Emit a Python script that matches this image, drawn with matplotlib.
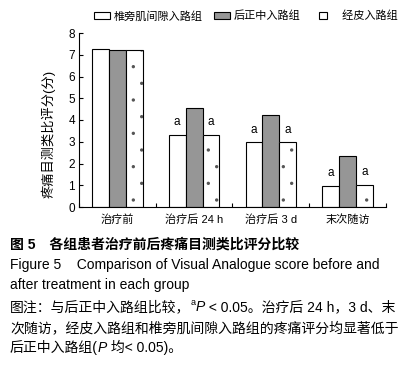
import matplotlib
matplotlib.use("Agg")
import matplotlib.pyplot as plt
from matplotlib.legend_handler import HandlerTuple
import numpy as np

plt.rcParams['font.family'] = ['Liberation Sans', 'Noto Sans CJK SC', 'DejaVu Sans']
plt.rcParams['hatch.linewidth'] = 0.0

categories = ['治疗前', '治疗后 24 h', '治疗后 3 d', '末次随访']
series_names = ['椎旁肌间隙入路组', '后正中入路组', '\u3000经皮入路组']
paraspinal = [7.27, 3.31, 2.97, 0.97]
midline = [7.22, 4.55, 4.23, 2.34]
percutaneous = [7.22, 3.31, 2.97, 1.01]
sig_marks = ['', 'a', 'a', 'a']
yticks = [0, 1, 2, 3, 4, 5, 6, 7, 8]

W, H = 414, 368
fig = plt.figure(figsize=(W / 100, H / 100), dpi=100)
ax = fig.add_axes([79 / W, 1 - 207 / H, (386 - 79) / W, (207 - 33) / H])

x = np.arange(len(categories))
w = 0.22
b1 = ax.bar(x - w, paraspinal, w, color='white', edgecolor='black', linewidth=0.8, label=series_names[0])
b2 = ax.bar(x, midline, w, color='#969696', edgecolor='black', linewidth=0.8, label=series_names[1])
b3h = ax.bar(x + w, percutaneous, w, color='white', edgecolor='#555555', linewidth=0,
             hatch='.')
b3 = ax.bar(x + w, percutaneous, w, color='none', edgecolor='black', linewidth=0.8)

for i, m in enumerate(sig_marks):
    if m:
        for xx, v in ((x[i] - w, paraspinal[i]), (x[i] + w, percutaneous[i])):
            ax.annotate(m, (xx, v), xytext=(0, 7), textcoords='offset points',
                        ha='center', va='baseline', fontsize=8.5)

ax.set_xlim(-0.5, len(categories) - 0.5)
ax.set_ylim(0, 8)
ax.set_yticks(yticks)
ax.tick_params(axis='y', direction='in', length=3, width=0.8, labelsize=8.5, pad=3)
ax.set_xticks(np.arange(len(categories) + 1) - 0.5)
ax.set_xticklabels([])
ax.set_xticks(x, minor=True)
ax.set_xticklabels(categories, minor=True, fontsize=8)
ax.tick_params(axis='x', which='major', direction='in', length=3, width=0.8)
ax.tick_params(axis='x', which='minor', length=0, pad=5)
for s in ('top', 'right'):
    ax.spines[s].set_visible(False)
for s in ('left', 'bottom'):
    ax.spines[s].set_linewidth(0.8)

fig.text(48 / W, 1 - 134 / H, '疼痛目测类比评分(分)', rotation=90, ha='center', va='center', fontsize=9.5)

fig.legend(handles=[b1, b2, (b3h, b3)], labels=series_names, loc='center',
           bbox_to_anchor=(246 / W, 1 - 16 / H), ncol=3,
           handler_map={tuple: HandlerTuple(ndivide=None, pad=0)},
           frameon=False, fontsize=8, handlelength=1.4, handleheight=0.55,
           handletextpad=0.35, columnspacing=1.0, borderaxespad=0, borderpad=0)

renderer = fig.canvas.get_renderer()


def rich(x0, ybase, pieces, size=10):
    xpos = x0
    for s, kw in pieces:
        k = dict(fontsize=size)
        dy = 0
        if kw.get('sup'):
            k['fontsize'] = size * 0.65
            dy = size * 1.39 * 0.42
        if kw.get('italic'):
            k['style'] = 'italic'
        if kw.get('bold'):
            k['weight'] = 'bold'
        t = fig.text(xpos / W, 1 - (ybase - dy) / H, s, ha='left', va='baseline', **k)
        bb = t.get_window_extent(renderer)
        xpos = bb.x1


rich(10, 248.5, [('图 5\u3000各组患者治疗前后疼痛目测类比评分比较', {'bold': True})])
rich(10, 268.5, [('Figure 5    Comparison of Visual Analogue score before and', {})])
rich(10, 289.5, [('after treatment in each group', {})])
rich(10, 311, [('图注：与后正中入路组比较，', {}), ('a', {'sup': True}), ('P', {'italic': True}),
               (' < 0.05。治疗后 24 h，3 d、末', {})])
rich(10, 332, [('次随访，经皮入路组和椎旁肌间隙入路组的疼痛评分均显著低于', {})])
rich(10, 352, [('后正中入路组(', {}), ('P', {'italic': True}), (' 均< 0.05)。', {})])

fig.savefig('out.png', dpi=100)
